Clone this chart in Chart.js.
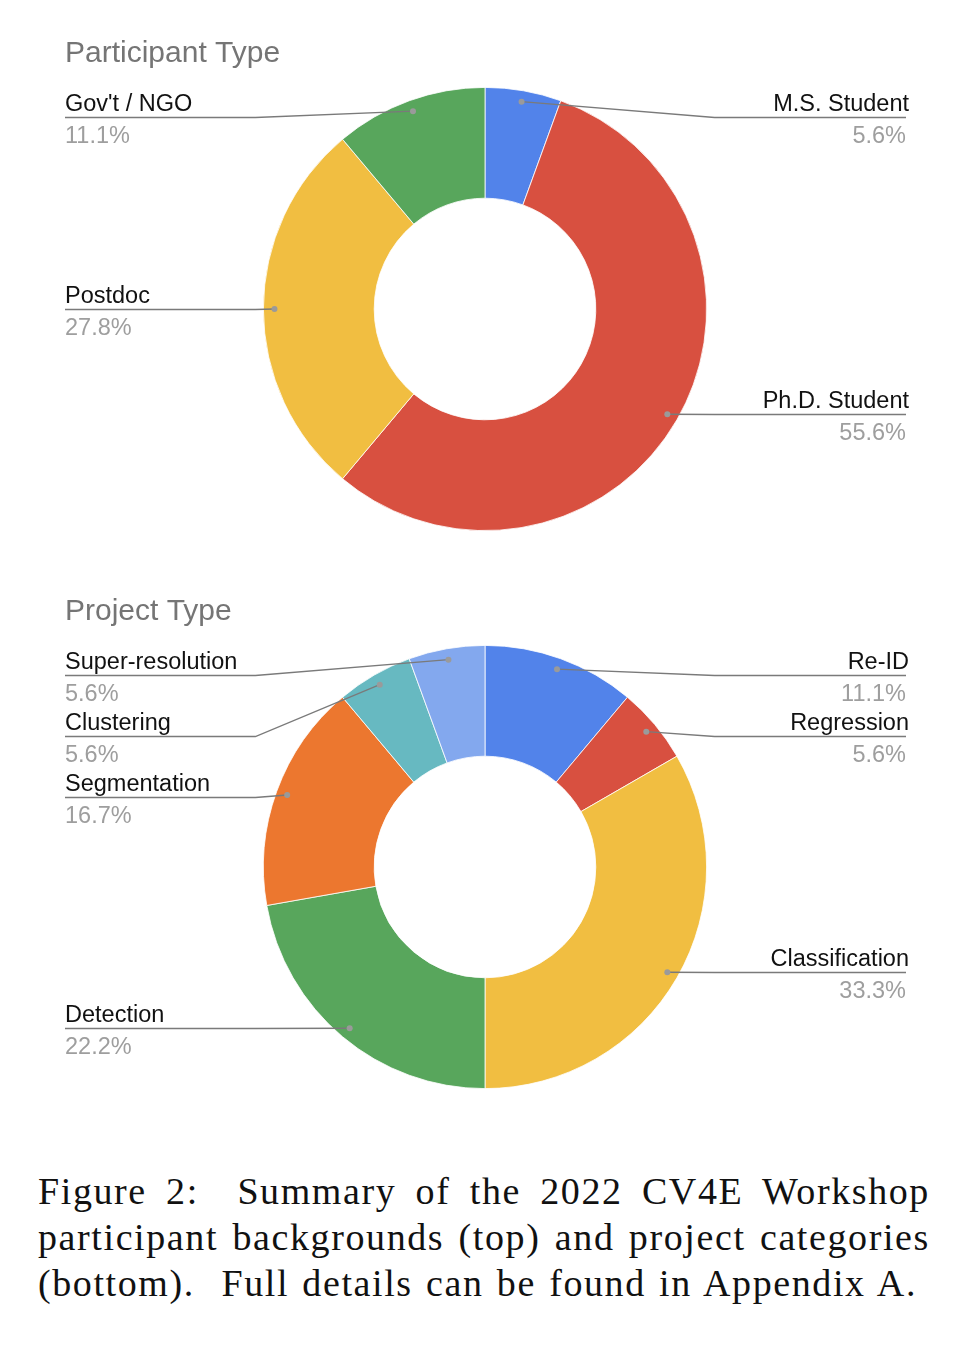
<!DOCTYPE html>
<html><head><meta charset="utf-8">
<script src="https://cdn.jsdelivr.net/npm/chart.js@4.4.0/dist/chart.umd.min.js"></script>
<style>
html,body{margin:0;padding:0;background:#fff;}
body{width:968px;height:1350px;position:relative;overflow:hidden;}
.cw{position:absolute;left:0;width:968px;height:560px;}
#c1w{top:0}
#c2w{top:558px}
#cap{position:absolute;left:38px;width:900px;top:1168px;font-family:"Liberation Serif","Times New Roman",serif;font-size:38px;line-height:46px;letter-spacing:1.6px;color:#111;}
#cap div{white-space:nowrap;height:46px;}
#cap span{white-space:nowrap;display:inline-block;}
</style>
</head><body>
<div class="cw" id="c1w"><canvas id="c1"></canvas></div>
<div class="cw" id="c2w"><canvas id="c2"></canvas></div>
<div id="cap">
<div><span id="cl1">Figure 2:&nbsp; Summary of the 2022 CV4E Workshop</span></div>
<div><span id="cl2">participant backgrounds (top) and project categories</span></div>
<div><span id="cl3">(bottom).&nbsp; Full details can be found in Appendix A.</span></div>
</div>
<script>
const participantTitle = "Participant Type";
const participantLabels = ["M.S. Student", "Ph.D. Student", "Postdoc", "Gov't / NGO"];
const participantValues = [1, 10, 5, 2];
const participantColors = ["#5283EA", "#D85040", "#F1BE41", "#58A65C"];

const projectTitle = "Project Type";
const projectLabels = ["Re-ID", "Regression", "Classification", "Detection", "Segmentation", "Clustering", "Super-resolution"];
const projectValues = [2, 1, 6, 4, 3, 1, 1];
const projectColors = ["#5283EA", "#D85040", "#F1BE41", "#58A65C", "#EC772F", "#67B9C1", "#83A8EE"];

const FONT = '"Liberation Sans", Arial, sans-serif';

const leaderPlugin = {
  id: 'leaders',
  afterDatasetsDraw(chart, args, opts) {
    const ctx = chart.ctx;
    const meta = chart.getDatasetMeta(0);
    const labels = chart.data.labels;
    const vals = chart.data.datasets[0].data;
    const total = vals.reduce((a, b) => a + b, 0);
    ctx.save();
    ctx.font = '30px ' + FONT;
    ctx.fillStyle = '#757575';
    ctx.textAlign = 'left';
    ctx.textBaseline = 'alphabetic';
    ctx.fillText(opts.title, opts.leftX, 62);

    const items = meta.data.map((arc, i) => {
      const p = arc.getProps(['x', 'y', 'startAngle', 'endAngle', 'outerRadius'], true);
      const mid = (p.startAngle + p.endAngle) / 2;
      const r = p.outerRadius * 0.95;
      return { i, cx: p.x, cy: p.y, R: p.outerRadius,
        px: p.x + Math.cos(mid) * r, py: p.y + Math.sin(mid) * r };
    });
    const spacing = 61;
    ['left', 'right'].forEach(side => {
      const list = items.filter(it => side === 'left' ? it.px < it.cx : it.px >= it.cx)
        .sort((a, b) => a.py - b.py);
      let prev = -1e9;
      list.forEach(it => {
        const minY = it.cy - it.R + 30;
        let y = Math.max(it.py, minY, prev + spacing);
        prev = y;
        y = Math.round(y) + 0.5;
        const knee = side === 'left' ? it.cx - it.R - 8 : it.cx + it.R + 8;
        const edge = side === 'left' ? opts.leftX : opts.rightX;
        ctx.strokeStyle = '#7a7a7a';
        ctx.lineWidth = 1.3;
        ctx.beginPath();
        ctx.moveTo(edge, y);
        ctx.lineTo(knee, y);
        ctx.lineTo(it.px, it.py);
        ctx.stroke();
        ctx.fillStyle = '#9a9a9a';
        ctx.beginPath();
        ctx.arc(it.px, it.py, 3, 0, Math.PI * 2);
        ctx.fill();
        ctx.font = '23.5px ' + FONT;
        ctx.textAlign = side === 'left' ? 'left' : 'right';
        ctx.fillStyle = '#111';
        ctx.fillText(labels[it.i], side === 'left' ? edge : edge + 3, y - 7);
        ctx.fillStyle = '#9e9e9e';
        const pct = (vals[it.i] / total * 100).toFixed(1) + '%';
        ctx.fillText(pct, edge, y + 25);
      });
    });
    ctx.restore();
  }
};

function makeChart(id, title, labels, values, colors) {
  return new Chart(document.getElementById(id), {
    type: 'doughnut',
    data: { labels: labels, datasets: [{ data: values, backgroundColor: colors,
      borderColor: '#ffffff', borderWidth: 0.8, hoverOffset: 0 }] },
    options: {
      responsive: true, maintainAspectRatio: false, animation: false,
      cutout: '50%',
      layout: { padding: { top: 87, bottom: 29, left: 2, right: 0 } },
      events: [],
      plugins: {
        legend: { display: false }, tooltip: { enabled: false }, title: { display: false },
        leaders: { title: title, leftX: 65, rightX: 906 }
      }
    },
    plugins: [leaderPlugin]
  });
}
makeChart('c1', participantTitle, participantLabels, participantValues, participantColors);
makeChart('c2', projectTitle, projectLabels, projectValues, projectColors);

// caption: stretch word spacing so lines span the reference widths
(function () {
  [['cl1', 892], ['cl2', 892], ['cl3', 879]].forEach(([id, target]) => {
    const el = document.getElementById(id);
    const w = el.getBoundingClientRect().width;
    const spaces = (el.textContent.match(/[ \u00a0]/g) || []).length;
    if (spaces > 0) el.style.wordSpacing = ((target - w) / spaces).toFixed(2) + 'px';
  });
})();
</script>
</body></html>
